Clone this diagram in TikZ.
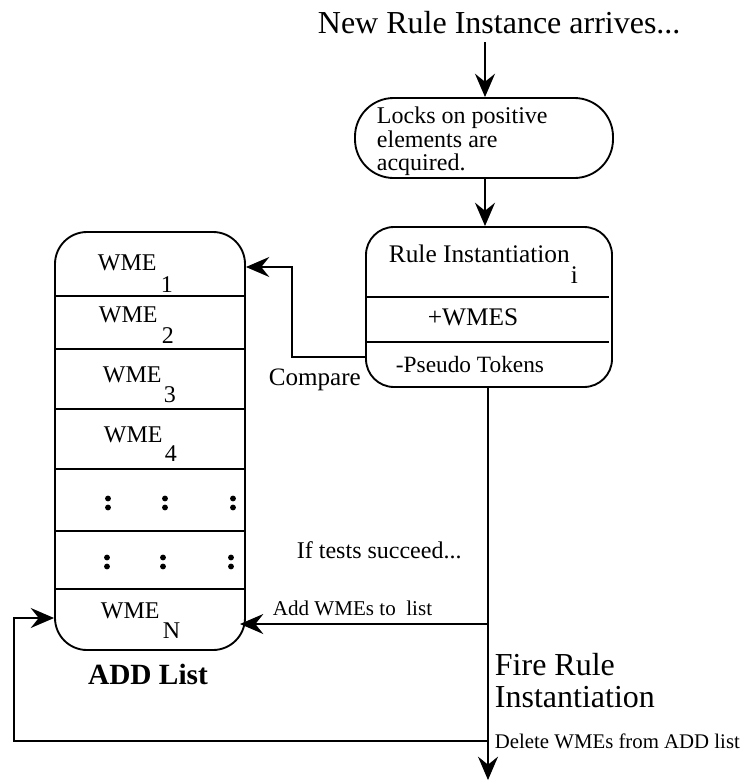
\documentclass[tikz,border=0pt]{standalone}
\usepackage{fontspec}
\setmainfont{Liberation Serif}
\usetikzlibrary{arrows.meta}
\newcommand{\fsz}[1]{\fontsize{#1}{#1}\selectfont}

\begin{document}
\begin{tikzpicture}[x=0.75pt,y=-0.75pt,
  line width=1.4pt,
  flow/.style={-{Stealth[length=17.5pt,width=15pt,inset=6pt]}},
  box/.style={draw, line width=1.4pt, inner sep=0pt},
  lbl/.style={anchor=base west, inner sep=0pt}
]
\useasboundingbox (0,0) rectangle (745,783);

% --- boxes ---
\node[box, rounded corners=29pt, minimum width=193.5pt, minimum height=60pt] (locks) at (484,138) {};
\node[box, rounded corners=21pt, minimum width=184.5pt, minimum height=120pt] (rule) at (489,307) {};
\node[box, rounded corners=24pt, minimum width=142.5pt, minimum height=313.5pt] (addlist) at (150,441) {};

% rule instantiation compartments
\foreach \y in {297,342}
  \draw (rule.west |- 0,\y) -- ([xshift=-3pt]rule.east |- 0,\y);

% add-list slots
\foreach \y in {296,349,409,469,531,589}
  \draw (addlist.west |- 0,\y) -- ([xshift=-1pt]addlist.east |- 0,\y);

% --- texts ---
\node[lbl, font=\fsz{24}] (title) at (317,33) {New Rule Instance arrives...};

\node[lbl, font=\fsz{18}] (lockA) at (376,123) {Locks on positive};
\node[lbl, font=\fsz{18}] (lockB) at (376,147) {elements are};
\node[lbl, font=\fsz{18}] (lockC) at (376,170) {acquired.};

\node[lbl, font=\fsz{19}] (rname) at (388,262) {Rule Instantiation};
\node[lbl, font=\fsz{19}] (rsub) at (570,283) {i};
\node[lbl, font=\fsz{19}] (rplus) at (427,325) {+WMES};
\node[lbl, font=\fsz{17.5}] (rminus) at (395,372) {-Pseudo Tokens};
\node[lbl, font=\fsz{18.8}] (cmp) at (268,385) {Compare};

\foreach \n/\x/\y/\sx/\sy in {1/97/270/160/292, 2/98/322/161/343, 3/102/382/163/402, 4/103/442/164/461, N/100/618/162/638} {
  \node[lbl, font=\fsz{18}] (wme\n) at (\x,\y) {WME};
  \node[lbl, font=\fsz{18}] (sub\n) at (\sx,\sy) {\n};
}

\foreach \x/\y in {108/503,165/503,233/503,107/562,163/562,231/562} {
  \fill (\x,\y-4.5) circle (2.2pt);
  \fill (\x,\y+4.5) circle (2.2pt);
}

\node[anchor=base, inner sep=0pt, font=\fsz{22}\bfseries] (addcap) at (148,684) {ADD List};

\node[lbl, font=\fsz{18}] (tests) at (296,558) {If tests succeed...};
\node[lbl, font=\fsz{15.8}] (addlbl) at (272,615) {Add WMEs to\ \ list};
\node[lbl, font=\fsz{24}] (fireA) at (494,675) {Fire Rule};
\node[lbl, font=\fsz{24}] (fireB) at (494,707) {Instantiation};
\node[lbl, font=\fsz{15.6}] (dellbl) at (494,748) {Delete WMEs from ADD list};

% --- connectors ---
\coordinate (start) at (485,42);
\coordinate (exit) at (488,780);
\draw[flow] (start) -- (start |- locks.north);
\draw[flow] (start |- locks.south) -- (start |- rule.north);
\draw[flow] (exit |- rule.south) -- (exit);
\draw[flow] (rule.west |- 0,357) -| (292,267) -- (addlist.east |- 0,267);
\draw[flow] (exit |- 0,624) -- (240,624);
\draw[flow] (exit |- 0,741) -- (14,741) -- (14,618) -- (addlist.west |- 0,618);
\end{tikzpicture}
\end{document}
